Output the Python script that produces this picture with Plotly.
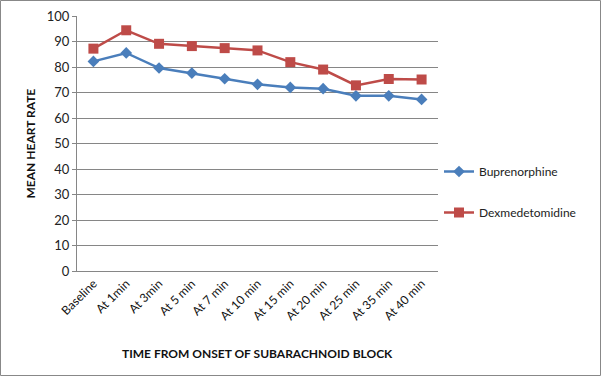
import plotly.graph_objects as go

categories = ["Baseline", "At 1min", "At 3min", "At 5 min", "At 7 min", "At 10 min",
              "At 15 min", "At 20 min", "At 25 min", "At 35 min", "At 40 min"]
buprenorphine = [82.2, 85.5, 79.6, 77.6, 75.4, 73.2, 72.0, 71.5, 68.7, 68.7, 67.3]
dexmedetomidine = [87.2, 94.4, 89.1, 88.2, 87.4, 86.5, 81.9, 79.0, 72.8, 75.3, 75.1]
y_ticks = [0, 10, 20, 30, 40, 50, 60, 70, 80, 90, 100]

W, H = 602, 377
L, R, T, B = 77, 438, 16, 271
pw, ph = R - L, B - T

font = "Lato, 'Liberation Sans', sans-serif"

fig = go.Figure()
fig.add_trace(go.Scatter(
    x=categories, y=buprenorphine, name="Buprenorphine", mode="lines+markers",
    line=dict(color="#4a7ebb", width=2.5),
    marker=dict(symbol="diamond", size=9, color="#4a7ebb"),
    legendgroup="a"))
fig.add_trace(go.Scatter(
    x=categories, y=dexmedetomidine, name="Dexmedetomidine", mode="lines+markers",
    line=dict(color="#be4b48", width=2.5),
    marker=dict(symbol="square", size=10, color="#be4b48"),
    legendgroup="b"))

fig.update_layout(
    width=W, height=H,
    margin=dict(l=L, r=W - R, t=T, b=H - B, autoexpand=False),
    paper_bgcolor="white", plot_bgcolor="white",
    font=dict(family=font, size=12, color="#222"),
    showlegend=True,
    legend=dict(x=(439 - L) / pw, y=(B - 157) / ph, xanchor="left", yanchor="top",
                traceorder="grouped", tracegroupgap=22, itemwidth=30,
                font=dict(family=font, size=12, color="#222"),
                bgcolor="rgba(0,0,0,0)"),
    xaxis=dict(
        type="category", tickangle=-45, showgrid=False, automargin=False,
        showline=True, linecolor="#868686", linewidth=1,
        ticks="", tickfont=dict(size=12, color="#111"),
        range=[-0.5, len(categories) - 0.5]),
    yaxis=dict(
        range=[0, 100], tickvals=y_ticks, showgrid=True, gridcolor="#868686",
        gridwidth=1, showline=True, linecolor="#868686", linewidth=1, automargin=False,
        ticks="outside", ticklen=4, tickcolor="#868686",
        tickfont=dict(size=13, color="#222"), zeroline=False),
    annotations=[
        dict(text="<b>TIME FROM ONSET OF SUBARACHNOID BLOCK</b>", xref="paper", yref="paper",
             x=0.5, y=(B - 353) / ph, xanchor="center", yanchor="middle",
             showarrow=False, font=dict(size=12, color="#111")),
        dict(text="<b>MEAN HEART RATE</b>", xref="paper", yref="paper",
             x=(30 - L) / pw, y=0.5, xanchor="center", yanchor="middle", textangle=-90,
             showarrow=False, font=dict(size=12, color="#111")),
    ],
    shapes=[dict(type="rect", xref="paper", yref="paper",
                 x0=(0.5 - L) / pw, x1=(W - 1.5 - L) / pw,
                 y0=(B - (H - 1.5)) / ph, y1=(B - 0.5) / ph,
                 line=dict(color="#888888", width=1), fillcolor="rgba(0,0,0,0)",
                 layer="below")],
)

fig.write_html("out.html", config={"displayModeBar": False},
               post_script="document.body.style.margin='0';document.body.style.overflow='hidden';")
